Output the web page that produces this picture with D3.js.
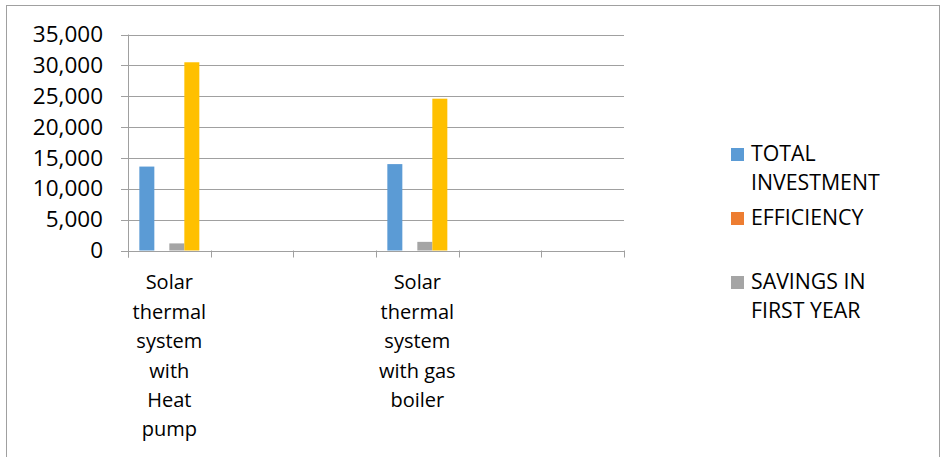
<!DOCTYPE html>
<html>
<head>
<meta charset="utf-8">
<script src="https://cdn.jsdelivr.net/npm/d3@7"></script>
<style>
  body { margin: 0; background: #fff; }
  text { font-family: "Open Sans", sans-serif; fill: #000; }
</style>
</head>
<body>
<div id="chart"></div>
<script>
// categories on the x axis (only two of the six carry a label)
const categories = ["Solar thermal system with Heat pump", "blank 2", "blank 3",
                    "Solar thermal system with gas boiler", "blank 5", "blank 6"];
const tickLabels = [
    ["Solar", "thermal", "system", "with", "Heat", "pump"], [], [],
    ["Solar", "thermal", "system", "with gas", "boiler"], [], []
];

// series values
const seriesNames = ["TOTAL INVESTMENT", "EFFICIENCY", "SAVINGS IN FIRST YEAR", "SERIES 4"];
const totalInvestment = [13600, null, null, 14000, null, null];
const efficiency = [0.8, null, null, 0.8, null, null];
const savingsFirstYear = [1150, null, null, 1400, null, null];
const series4 = [30500, null, null, 24600, null, null];

const yTicks = [0, 5000, 10000, 15000, 20000, 25000, 30000, 35000];
const legendLines = [["TOTAL", "INVESTMENT"], ["EFFICIENCY"], ["SAVINGS IN", "FIRST YEAR"]];

const colors = ["#5B9BD5", "#ED7D31", "#A5A5A5", "#FFC000"];
const values = [totalInvestment, efficiency, savingsFirstYear, series4];

const width = 943, height = 457;
const margin = { top: 34.5, left: 128, right: 319, bottom: 206.5 };

const svg = d3.select("#chart").append("svg")
    .attr("width", width)
    .attr("height", height);

// outer chart border
svg.append("rect")
    .attr("x", 6.5).attr("y", 5.5)
    .attr("width", 933).attr("height", 460)
    .attr("fill", "none")
    .attr("stroke", "#a0a0a0");

const x = d3.scaleBand()
    .domain(categories)
    .range([margin.left, width - margin.right]);

const xs = d3.scaleBand()
    .domain(seriesNames)
    .range([0, x.bandwidth()])
    .paddingOuter(0.756);

const y = d3.scaleLinear()
    .domain([0, 35000])
    .range([height - margin.bottom, margin.top]);

// gridlines
svg.append("g")
    .selectAll("line")
    .data(yTicks)
    .join("line")
    .attr("x1", margin.left - 7)
    .attr("x2", width - margin.right)
    .attr("y1", d => Math.round(y(d)) + 0.5)
    .attr("y2", d => Math.round(y(d)) + 0.5)
    .attr("stroke", "#a0a0a0");

// y axis labels
const yAxis = svg.append("g")
    .attr("transform", `translate(${margin.left},0)`)
    .call(d3.axisLeft(y).tickValues(yTicks).tickSize(0).tickPadding(25).tickFormat(d3.format(",")));
yAxis.select(".domain").remove();
yAxis.selectAll("text")
    .style("font-family", "'Open Sans', sans-serif")
    .style("font-size", "22.5px")
    .attr("fill", "#000");

// y axis line
svg.append("line")
    .attr("x1", margin.left + 0.5).attr("x2", margin.left + 0.5)
    .attr("y1", margin.top).attr("y2", y(0) + 7)
    .attr("stroke", "#a0a0a0");

// x tick marks at category boundaries
const bounds = categories.map(c => x(c)).concat([width - margin.right]);
svg.append("g")
    .selectAll("line")
    .data(bounds)
    .join("line")
    .attr("x1", d => Math.round(d) + 0.5)
    .attr("x2", d => Math.round(d) + 0.5)
    .attr("y1", y(0))
    .attr("y2", y(0) + 7)
    .attr("stroke", "#a0a0a0");

// bars
const groups = svg.append("g")
    .selectAll("g")
    .data(categories)
    .join("g")
    .attr("transform", d => `translate(${x(d)},0)`);

groups.selectAll("rect")
    .data((c, ci) => seriesNames.map((s, si) => ({ s, si, v: values[si][ci] })).filter(d => d.v != null))
    .join("rect")
    .attr("x", d => xs(d.s))
    .attr("width", xs.bandwidth())
    .attr("y", d => y(d.v))
    .attr("height", d => y(0) - y(d.v))
    .attr("fill", d => colors[d.si]);

// x tick labels, one text line per row
const lineH = 29.4;
svg.append("g")
    .selectAll("text")
    .data(categories)
    .join("text")
    .attr("text-anchor", "middle")
    .style("font-size", "20px")
    .each(function (c, i) {
        d3.select(this).selectAll("tspan")
            .data(tickLabels[i])
            .join("tspan")
            .attr("x", x(c) + x.bandwidth() / 2)
            .attr("y", (d, j) => 289.3 + j * lineH)
            .text(d => d);
    });

// legend (three entries)
const legend = svg.append("g")
    .selectAll("g")
    .data(legendLines)
    .join("g")
    .attr("transform", (d, i) => `translate(731,${161 + i * 64})`);

legend.append("rect")
    .attr("x", 0).attr("y", -13)
    .attr("width", 13).attr("height", 13)
    .attr("fill", (d, i) => colors[i]);

legend.append("text")
    .style("font-size", "21.3px")
    .selectAll("tspan")
    .data(d => d)
    .join("tspan")
    .attr("x", 20)
    .attr("y", (d, j) => j * lineH)
    .text(d => d);
</script>
</body>
</html>
